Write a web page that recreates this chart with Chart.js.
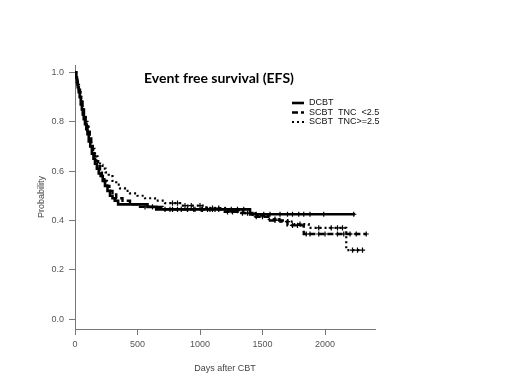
<!DOCTYPE html>
<html>
<head>
<meta charset="utf-8">
<script src="https://cdn.jsdelivr.net/npm/chart.js@4"></script>
<style>
  html, body { margin: 0; padding: 0; background: #fff; }
  canvas { display: block; }
</style>
</head>
<body>
<canvas id="chart" width="520" height="390"></canvas>
<script>
// Kaplan-Meier steps: [days, probability]
const dcbtSteps = [
  [0, 1.0], [8, 0.98], [15, 0.96], [22, 0.94], [30, 0.92], [38, 0.90], [46, 0.87],
  [55, 0.85], [62, 0.83], [70, 0.81], [80, 0.79], [90, 0.77], [100, 0.75], [110, 0.72],
  [122, 0.70], [135, 0.67], [148, 0.65], [160, 0.63], [175, 0.61], [190, 0.59],
  [205, 0.58], [222, 0.56], [240, 0.54], [260, 0.52], [280, 0.50], [300, 0.49],
  [318, 0.48], [345, 0.465], [580, 0.455], [650, 0.445], [1400, 0.425], [2240, 0.425]
];
const lowTncSteps = [
  [0, 1.0], [10, 0.97], [20, 0.95], [30, 0.93], [40, 0.90], [50, 0.88], [60, 0.85],
  [72, 0.83], [85, 0.80], [95, 0.78], [108, 0.76], [118, 0.74], [130, 0.71], [142, 0.69],
  [155, 0.66], [170, 0.64], [185, 0.62], [200, 0.60], [215, 0.58], [235, 0.56],
  [255, 0.54], [275, 0.52], [300, 0.505], [330, 0.49], [380, 0.48], [440, 0.465],
  [520, 0.455], [700, 0.445], [1180, 0.435], [1300, 0.43], [1420, 0.415], [1560, 0.40],
  [1700, 0.38], [1830, 0.345], [2330, 0.345]
];
const highTncSteps = [
  [0, 1.0], [10, 0.98], [20, 0.95], [32, 0.92], [45, 0.89], [58, 0.86], [70, 0.83],
  [85, 0.80], [100, 0.76], [115, 0.73], [130, 0.70], [145, 0.68], [160, 0.66],
  [180, 0.64], [200, 0.625], [220, 0.61], [245, 0.595], [270, 0.58], [300, 0.56],
  [330, 0.545], [360, 0.53], [400, 0.52], [440, 0.51], [500, 0.50], [560, 0.49],
  [640, 0.48], [720, 0.47], [850, 0.46], [1050, 0.45], [1200, 0.44], [1350, 0.43],
  [1460, 0.42], [1550, 0.405], [1650, 0.395], [1750, 0.385], [1870, 0.37],
  [2170, 0.28], [2300, 0.28]
];

// censored observations (days)
const dcbtCensored = [720, 780, 850, 900, 960, 1010, 1060, 1100, 1150, 1200, 1250, 1300, 1350,
  1450, 1510, 1560, 1640, 1700, 1740, 1790, 1830, 1880, 1990, 2230];
const lowTncCensored = [560, 620, 760, 820, 900, 950, 1020, 1080, 1120, 1220, 1260, 1340, 1380,
  1450, 1500, 1600, 1640, 1740, 1780, 1850, 1880, 1950, 2000, 2100, 2150, 2200, 2250, 2330];
const highTncCensored = [780, 820, 880, 930, 1000, 1100, 1150, 1250, 1300, 1400, 1500, 1600,
  1700, 1800, 1950, 2050, 2100, 2140, 2220, 2260, 2300];

const seriesNames = ["DCBT", "SCBT  TNC  <2.5", "SCBT  TNC>=2.5"];
const xTicks = [0, 500, 1000, 1500, 2000];
const yTicks = [0.0, 0.2, 0.4, 0.6, 0.8, 1.0];
const chartTitle = "Event free survival (EFS)";
const xTitle = "Days after CBT";
const yTitle = "Probability";

const toPoints = steps => steps.map(s => ({ x: s[0], y: s[1] }));

// survival value at a censored time, taken from the step table
function survivalAt(steps, t) {
  let v = steps[0][1];
  steps.forEach(s => { if (s[0] <= t) v = s[1]; });
  return v;
}
const censorPoints = (steps, times) => times.map(t => ({ x: t, y: survivalAt(steps, t) }));

const styles = [
  { width: 2.6, dash: [] },
  { width: 2.4, dash: [6, 3] },
  { width: 2.2, dash: [2, 3] }
];

const curveSets = [
  [dcbtSteps, dcbtCensored],
  [lowTncSteps, lowTncCensored],
  [highTncSteps, highTncCensored]
];

const datasets = [];
curveSets.forEach((c, i) => {
  datasets.push({
    label: seriesNames[i],
    data: toPoints(c[0]),
    stepped: "before",
    borderColor: "#000",
    borderWidth: styles[i].width,
    borderDash: styles[i].dash,
    pointRadius: 0,
    fill: false
  });
});
curveSets.forEach((c, i) => {
  datasets.push({
    label: "censored",
    type: "scatter",
    data: censorPoints(c[0], c[1]),
    showLine: false,
    pointStyle: "cross",
    pointRadius: 2.6,
    borderColor: "#000",
    borderWidth: 1.2,
    backgroundColor: "#000"
  });
});

// title and key drawn in fixed spots like the original figure
const annotations = {
  id: "annotations",
  afterDraw(chart) {
    const ctx = chart.ctx;
    ctx.save();
    ctx.fillStyle = "#000";
    ctx.font = "bold 14px Lato";
    ctx.textAlign = "center";
    ctx.textBaseline = "middle";
    ctx.fillText(chartTitle, 219, 78);

    ctx.font = "9px 'Liberation Sans'";
    ctx.textAlign = "left";
    for (let i = 0; i < 3; i++) {
      const ds = chart.data.datasets[i];
      const y = 103 + i * 9.5;
      ctx.strokeStyle = "#000";
      ctx.lineWidth = ds.borderWidth;
      ctx.setLineDash(ds.borderDash);
      ctx.beginPath();
      ctx.moveTo(292, y);
      ctx.lineTo(304, y);
      ctx.stroke();
      ctx.setLineDash([]);
      ctx.fillStyle = "#111";
      ctx.fillText(ds.label, 309, y);
    }
    ctx.restore();
  }
};

const axisColor = "#777";
const tickFont = { family: "'Liberation Sans'", size: 9 };

new Chart(document.getElementById("chart"), {
  type: "line",
  data: { datasets },
  plugins: [annotations],
  options: {
    responsive: false,
    animation: false,
    devicePixelRatio: 1,
    layout: { padding: { left: 0, right: 145, top: 65, bottom: 0 } },
    plugins: { legend: { display: false }, tooltip: { enabled: false } },
    scales: {
      x: {
        type: "linear",
        min: 0,
        max: 2400,
        afterBuildTicks: s => { s.ticks = xTicks.map(v => ({ value: v })); },
        afterFit: s => { s.height = 61; },
        ticks: { color: "#555", font: tickFont, padding: 4, maxRotation: 0, callback: v => String(v) },
        grid: { drawOnChartArea: false, color: axisColor, tickLength: 6 },
        border: { color: axisColor, width: 1 },
        title: { display: true, text: xTitle, color: "#444", font: tickFont, padding: { top: 16, bottom: 16 } }
      },
      y: {
        type: "linear",
        min: -0.04,
        max: 1.03,
        afterBuildTicks: s => { s.ticks = yTicks.map(v => ({ value: v })); },
        afterFit: s => { s.width = 75; },
        ticks: { color: "#555", font: tickFont, padding: 5, callback: v => v.toFixed(1) },
        grid: { drawOnChartArea: false, color: axisColor, tickLength: 6 },
        border: { color: axisColor, width: 1 },
        title: { display: true, text: yTitle, color: "#444", font: tickFont, padding: { top: 36, bottom: 0 } }
      }
    }
  }
});
</script>
</body>
</html>
